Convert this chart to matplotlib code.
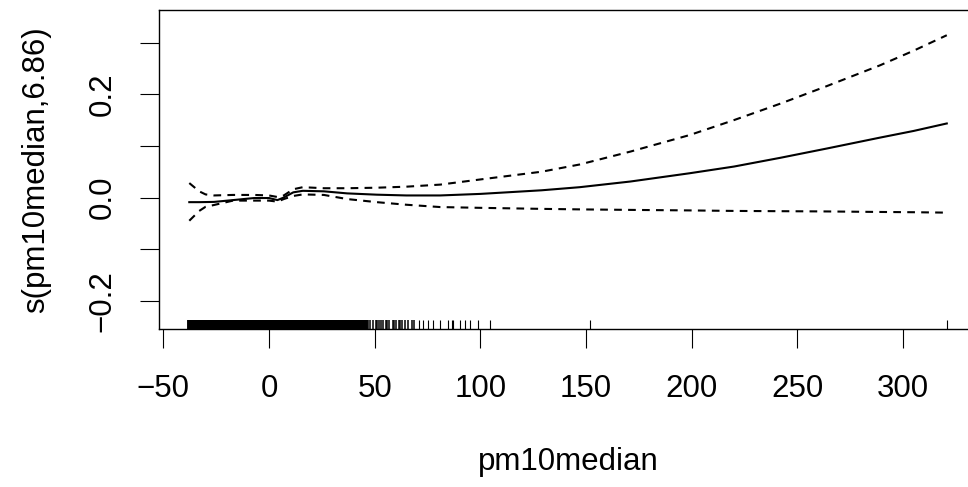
import matplotlib
matplotlib.use("Agg")
import matplotlib.pyplot as plt
import matplotlib.transforms as mtransforms

plt.rcParams['font.family'] = ['Liberation Sans', 'DejaVu Sans']

# smooth term s(pm10median)
pm10 = [-37.7, -33, -30, -26, -17, -7, 0, 4, 7, 11.5, 16, 26, 37, 51, 65, 81,
        100, 129, 147, 171, 199, 220, 242, 264, 289, 305, 320.7]
fit = [-0.009, -0.009, -0.0088, -0.0085, -0.005, -0.001, -0.001, -0.005, 0.0,
       0.010, 0.013, 0.012, 0.008, 0.0055, 0.004, 0.004, 0.007, 0.014, 0.020,
       0.031, 0.047, 0.060, 0.077, 0.095, 0.116, 0.129, 0.1435]
upper = [0.028, 0.012, 0.006, 0.004, 0.005, 0.005, 0.004, 0.001, 0.004, 0.016,
         0.020, 0.018, 0.018, 0.019, 0.021, 0.025, 0.035, 0.050, 0.064, 0.089,
         0.121, 0.150, 0.182, 0.216, 0.256, 0.2845, 0.3145]
lower = [-0.045, -0.026, -0.018, -0.0145, -0.006, -0.006, -0.006, -0.008,
         -0.003, 0.003, 0.006, 0.005, -0.003, -0.009, -0.014, -0.0185, -0.020,
         -0.022, -0.023, -0.024, -0.025, -0.026, -0.0265, -0.027, -0.028,
         -0.0285, -0.0293]

# rug of observed pm10median values
rug_dense = [-37.7, -36.5, -35, -34, -33, -32, -31, -30, -29, -28, -27, -26,
             -25, -24, -23, -22, -21, -20, -19, -18, -17, -16, -15, -14, -13,
             -12, -11, -10, -9, -8, -7, -6, -5, -4, -3, -2, -1, 0, 1, 2, 3, 4,
             5, 6, 7, 8, 9, 10, 11, 12, 13, 14, 15, 16, 17, 18, 19, 20, 21, 22,
             23, 24, 25, 26, 27, 28, 29, 30, 31, 32, 33, 34, 35, 36, 37, 38, 39,
             40, 41, 42, 43, 44, 45, 46]
rug_mid = [47, 48, 49, 50.5, 51, 52, 53, 54, 55.5, 56, 57, 58.5, 59, 60, 61.5,
           62, 63, 64.5, 66, 67.5, 68.5]
rug_sparse = [71.1, 73.0, 75.4, 77.5, 80.9, 84.9, 86.5, 87.2, 90.4, 92.8, 95.1,
              99.1, 104.6, 152, 320.7]

xticks = [-50, 0, 50, 100, 150, 200, 250, 300]
yticks = [-0.2, -0.1, 0.0, 0.1, 0.2, 0.3]
ylabels = ['\u22120.2', '', '0.0', '', '0.2', '']

fig = plt.figure(figsize=(9.68, 4.87), dpi=100)
ax = fig.add_axes([159.3 / 968, 1 - 329.3 / 487, (977 - 159.3) / 968, (329.3 - 10) / 487])

ax.plot(pm10, fit, color='black', lw=1.5, solid_joinstyle='round')
ax.plot(pm10, upper, color='black', lw=1.5, linestyle=(0, (3.7, 3.0)))
ax.plot(pm10, lower, color='black', lw=1.5, linestyle=(0, (3.7, 3.0)))

# rug along the bottom, 3% of plot height
trans = mtransforms.blended_transform_factory(ax.transData, ax.transAxes)
ax.vlines(rug_dense, 0, 0.03, transform=trans, color='black', lw=2.8)
ax.vlines(rug_mid, 0, 0.03, transform=trans, color='black', lw=1.1)
ax.vlines(rug_sparse, 0, 0.03, transform=trans, color='black', lw=0.8)

ax.set_xlim(-51.89, 335.0)
ax.set_ylim(-0.2554, 0.3634)

ax.set_xticks(xticks)
ax.set_xticklabels([str(v).replace('-', '\u2212') for v in xticks])
ax.set_yticks(yticks)
ax.set_yticklabels(ylabels, rotation=90, va='center')

ax.tick_params(axis='both', direction='out', length=13.7, width=0.8,
               labelsize=22.5, color='black')
ax.tick_params(axis='x', pad=18.3)
ax.tick_params(axis='y', pad=16.3)

for sp in ax.spines.values():
    sp.set_linewidth(1.0)

ax.set_xlabel('pm10median', fontsize=22.5, labelpad=31.5)
ax.set_ylabel('s(pm10median,6.86)', fontsize=22.5, labelpad=26.5)

fig.savefig('out.png', dpi=100)
